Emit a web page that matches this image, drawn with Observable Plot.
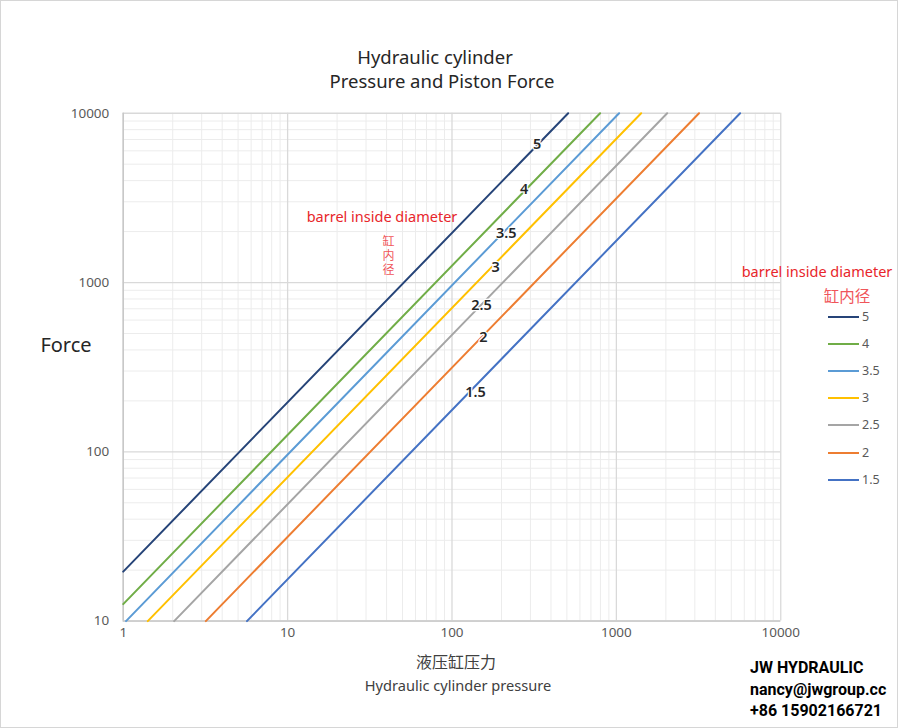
<!DOCTYPE html>
<html>
<head>
<meta charset="utf-8">
<script src="https://cdn.jsdelivr.net/npm/d3@7"></script>
<script src="https://cdn.jsdelivr.net/npm/@observablehq/plot@0.6"></script>
<style>
  html, body { margin: 0; padding: 0; background: #fff; }
  #wrap { position: relative; width: 898px; height: 728px; box-sizing: border-box; border: 1px solid #d6d6d6; overflow: hidden; font-family: "Noto Sans", "Open Sans", sans-serif; }
  #wrap svg { position: absolute; left: -1px; top: -1px; }
  .t { position: absolute; white-space: nowrap; transform: translate(-50%, -50%); line-height: 1; }
  .red { color: #e8262b; }
  .pink { color: #f0555a; }
  .leg { position: absolute; left: 827px; height: 2px; width: 31px; }
  .legl { position: absolute; left: 861px; font-size: 12.5px; color: #595959; transform: translateY(-50%); line-height: 1; }
  .brand { position: absolute; left: 749px; font-family: "Liberation Sans Narrow", "Roboto", sans-serif; font-weight: bold; font-size: 16px; color: #000; line-height: 1; transform: translateY(-50%); }
</style>
</head>
<body>
<div id="wrap"></div>
<script>
// Series: barrel inside diameter (cm) and the visible end points
const diameters    = ["5", "4", "3.5", "3", "2.5", "2", "1.5"];
const colors       = ["#264478", "#70ad47", "#5b9bd5", "#ffc000", "#a5a5a5", "#ed7d31", "#4472c4"];
const startPressure = [1, 1, 1.04, 1.41, 2.04, 3.18, 5.66];
const startForce    = [19.6, 12.6, 10, 10, 10, 10, 10];
const endPressure   = [509, 796, 1039, 1415, 2037, 3183, 5659];
const endForce      = [10000, 10000, 10000, 10000, 10000, 10000, 10000];
// In-plot line labels (pressure, force)
const labelPressure = [330, 275, 214, 184, 151, 155, 139];
const labelForce    = [6560, 3560, 1960, 1236, 738, 472, 224];
// Axis ticks
const pressureTicks = [1, 10, 100, 1000, 10000];
const forceTicks    = [10, 100, 1000, 10000];

const series = diameters.map((d, i) => ({
  d, color: colors[i],
  pts: [{p: startPressure[i], f: startForce[i]}, {p: endPressure[i], f: endForce[i]}]
}));

const minorX = d3.scaleLog().domain([1, 10000]).ticks().filter(v => !pressureTicks.includes(v));
const minorY = d3.scaleLog().domain([10, 10000]).ticks().filter(v => !forceTicks.includes(v));

const chart = Plot.plot({
  width: 898, height: 728,
  marginLeft: 123, marginRight: 116, marginTop: 113, marginBottom: 106,
  x: {type: "log", domain: [1, 10000], axis: null},
  y: {type: "log", domain: [10, 10000], axis: null},
  style: {fontFamily: "'Noto Sans', 'Open Sans', sans-serif", background: "transparent"},
  marks: [
    Plot.ruleX(minorX, {x: d => d, stroke: "#ececec", strokeWidth: 1}),
    Plot.ruleY(minorY, {y: d => d, stroke: "#ececec", strokeWidth: 1}),
    Plot.ruleX(pressureTicks, {x: d => d, stroke: "#d9d9d9", strokeWidth: 1.3}),
    Plot.ruleY(forceTicks, {y: d => d, stroke: "#d9d9d9", strokeWidth: 1.3}),
    Plot.ruleX([1], {x: d => d, stroke: "#c8c8c8", strokeWidth: 1.5}),
    Plot.ruleY([10], {y: d => d, stroke: "#c8c8c8", strokeWidth: 1.5}),
    ...series.map(s => Plot.line(s.pts, {x: "p", y: "f", stroke: s.color, strokeWidth: 2})),
    Plot.text(diameters, {
      x: (d, i) => labelPressure[i], y: (d, i) => labelForce[i], text: d => d,
      fontSize: 14.5, fontWeight: 600, fill: "#262626", stroke: "white", strokeWidth: 2.5
    }),
    Plot.text(pressureTicks, {x: d => d, frameAnchor: "bottom", dy: 16, text: d => String(d), fontSize: 13.5, fill: "#595959"}),
    Plot.text(forceTicks, {y: d => d, frameAnchor: "left", dx: -14, textAnchor: "end", text: d => String(d), fontSize: 13.5, fill: "#595959"})
  ]
});

const wrap = document.getElementById("wrap");
wrap.appendChild(chart);

function addText(txt, x, y, size, cls, extra) {
  const el = document.createElement("div");
  el.className = "t " + (cls || "");
  el.textContent = txt;
  el.style.left = x + "px";
  el.style.top = y + "px";
  el.style.fontSize = size + "px";
  if (extra) Object.assign(el.style, extra);
  wrap.appendChild(el);
  return el;
}

addText("Hydraulic cylinder", 434, 56, 18.5, "", {color: "#262626"});
addText("Pressure and Piston Force", 441, 80, 18.5, "", {color: "#262626"});
addText("Force", 65, 344, 20, "", {color: "#262626"});
addText("液压缸压力", 455, 660, 16, "", {color: "#404040", fontFamily: "'Noto Sans CJK SC', sans-serif"});
addText("Hydraulic cylinder pressure", 457, 684, 14.6, "", {color: "#404040"});
addText("barrel inside diameter", 381, 215, 14.5, "red");
addText("缸内径", 387, 255, 12, "pink", {fontFamily: "'Noto Sans CJK SC', sans-serif", writingMode: "vertical-rl", textOrientation: "upright", letterSpacing: "2px"});
addText("barrel inside diameter", 816, 270, 14.5, "red");
addText("缸内径", 846, 295, 15.5, "pink", {fontFamily: "'Noto Sans CJK SC', sans-serif"});

const legY = [316, 343, 370, 397, 424, 452, 479];
diameters.forEach((d, i) => {
  const ln = document.createElement("div");
  ln.className = "leg";
  ln.style.top = (legY[i] - 1) + "px";
  ln.style.background = colors[i];
  wrap.appendChild(ln);
  const lb = document.createElement("div");
  lb.className = "legl";
  lb.style.top = legY[i] + "px";
  lb.textContent = d;
  wrap.appendChild(lb);
});

[["JW HYDRAULIC", 667], ["nancy@jwgroup.cc", 689], ["+86 15902166721", 710]].forEach(([t, y]) => {
  const el = document.createElement("div");
  el.className = "brand";
  el.style.top = y + "px";
  el.textContent = t;
  wrap.appendChild(el);
});
</script>
</body>
</html>
